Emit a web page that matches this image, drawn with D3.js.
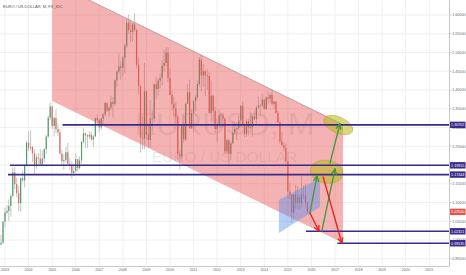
<!DOCTYPE html>
<html>
<head>
<meta charset="utf-8">
<script src="https://cdn.jsdelivr.net/npm/d3@7"></script>
<style>
  html, body { margin: 0; padding: 0; background: #fff; }
  svg { display: block; font-family: "Liberation Sans", Arial, sans-serif; }
</style>
</head>
<body>
<div id="chart"></div>
<script>
/* EURUSD monthly candles with channel drawing */

const title = "EURO / US DOLLAR, M, FX_IDC";
const firstMonth = "2002-10-01";

// monthly OHLC, Oct 2002 .. Nov 2015
const opens = [
    0.9795, 0.9876, 0.9928,
    1.0487, 1.0734, 1.0776, 1.0908, 1.1170, 1.1805, 1.1490, 1.1250, 1.0985, 1.1650, 1.1590, 1.1990,
    1.2595, 1.2460, 1.2480, 1.2310, 1.1970, 1.2200, 1.2170, 1.2020, 1.2170, 1.2430, 1.2760, 1.3260,
    1.3560, 1.3040, 1.3250, 1.2960, 1.2870, 1.2300, 1.2100, 1.2130, 1.2340, 1.2030, 1.1990, 1.1790,
    1.1840, 1.2160, 1.1920, 1.2120, 1.2620, 1.2850, 1.2790, 1.2760, 1.2810, 1.2680, 1.2760, 1.3250,
    1.3200, 1.3000, 1.3240, 1.3350, 1.3650, 1.3450, 1.3530, 1.3680, 1.3630, 1.4260, 1.4490, 1.4630,
    1.4590, 1.4860, 1.5180, 1.5790, 1.5600, 1.5550, 1.5750, 1.5600, 1.4670, 1.4100, 1.2730, 1.2700,
    1.3970, 1.2800, 1.2670, 1.3240, 1.3240, 1.4150, 1.4030, 1.4250, 1.4330, 1.4640, 1.4720, 1.5000,
    1.4320, 1.3870, 1.3630, 1.3510, 1.3290, 1.2290, 1.2230, 1.3050, 1.2680, 1.3630, 1.3940, 1.2980,
    1.3380, 1.3700, 1.3810, 1.4160, 1.4810, 1.4390, 1.4500, 1.4390, 1.4370, 1.3390, 1.3850, 1.3440,
    1.2960, 1.3080, 1.3330, 1.3340, 1.3240, 1.2360, 1.2660, 1.2300, 1.2580, 1.2860, 1.2960, 1.2990,
    1.3190, 1.3580, 1.3060, 1.2820, 1.3170, 1.3000, 1.3010, 1.3300, 1.3220, 1.3530, 1.3580, 1.3590,
    1.3740, 1.3490, 1.3800, 1.3770, 1.3870, 1.3630, 1.3690, 1.3390, 1.3130, 1.2630, 1.2530, 1.2450,
    1.2100, 1.1290, 1.1200, 1.0730, 1.1220, 1.0990, 1.1150, 1.0980, 1.1210, 1.1180, 1.1000
];
const highs = [
    0.9925, 1.0140, 1.0500,
    1.0860, 1.0935, 1.1080, 1.1230, 1.1930, 1.1935, 1.1660, 1.1450, 1.1670, 1.1840, 1.2020, 1.2640,
    1.2900, 1.2930, 1.2510, 1.2420, 1.2290, 1.2320, 1.2430, 1.2380, 1.2440, 1.2810, 1.3320, 1.3667,
    1.3580, 1.3290, 1.3480, 1.3110, 1.2950, 1.2400, 1.2290, 1.2480, 1.2590, 1.2180, 1.2100, 1.2040,
    1.2320, 1.2160, 1.2230, 1.2640, 1.2980, 1.2860, 1.2830, 1.2910, 1.2890, 1.2800, 1.3260, 1.3360,
    1.3240, 1.3250, 1.3390, 1.3680, 1.3660, 1.3550, 1.3850, 1.3810, 1.4280, 1.4520, 1.4970, 1.4770,
    1.4910, 1.5240, 1.5900, 1.6018, 1.5820, 1.5790, 1.6038, 1.5620, 1.4870, 1.4120, 1.3300, 1.4720,
    1.4000, 1.3100, 1.3740, 1.3460, 1.4180, 1.4340, 1.4300, 1.4440, 1.4800, 1.5060, 1.5144, 1.5140,
    1.4580, 1.3970, 1.3820, 1.3690, 1.3340, 1.2400, 1.3100, 1.3330, 1.3670, 1.4160, 1.4280, 1.3500,
    1.3730, 1.3860, 1.4250, 1.4880, 1.4940, 1.4700, 1.4530, 1.4550, 1.4470, 1.4250, 1.3870, 1.3550,
    1.3230, 1.3490, 1.3390, 1.3380, 1.3280, 1.2700, 1.2690, 1.2640, 1.3170, 1.3140, 1.3010, 1.3310,
    1.3590, 1.3710, 1.3120, 1.3240, 1.3240, 1.3420, 1.3350, 1.3450, 1.3570, 1.3830, 1.3620, 1.3900,
    1.3770, 1.3830, 1.3960, 1.3910, 1.3993, 1.3700, 1.3700, 1.3440, 1.3190, 1.2890, 1.2610, 1.2570,
    1.2100, 1.1530, 1.1220, 1.1220, 1.1470, 1.1440, 1.1220, 1.1710, 1.1460, 1.1500, 1.1020
];
const lows = [
    0.9695, 0.9865, 0.9900,
    1.0335, 1.0690, 1.0500, 1.0620, 1.1150, 1.1360, 1.1140, 1.0770, 1.0760, 1.1540, 1.1400, 1.1960,
    1.2370, 1.2380, 1.2080, 1.1760, 1.1900, 1.1990, 1.2010, 1.2000, 1.2070, 1.2280, 1.2720, 1.3190,
    1.2970, 1.2760, 1.2860, 1.2770, 1.2290, 1.1980, 1.1870, 1.2070, 1.2010, 1.1870, 1.1640, 1.1710,
    1.1800, 1.1820, 1.1870, 1.2040, 1.2570, 1.2460, 1.2450, 1.2690, 1.2650, 1.2480, 1.2750, 1.3090,
    1.2870, 1.2930, 1.3080, 1.3300, 1.3420, 1.3290, 1.3480, 1.3260, 1.3580, 1.4070, 1.4420, 1.4270,
    1.4360, 1.4440, 1.5120, 1.5510, 1.5280, 1.5280, 1.5550, 1.4580, 1.3880, 1.2330, 1.2420, 1.2420,
    1.2670, 1.2460, 1.2460, 1.2880, 1.3140, 1.3750, 1.3850, 1.4040, 1.4130, 1.4480, 1.4640, 1.4220,
    1.3860, 1.3440, 1.3270, 1.3110, 1.2140, 1.1876, 1.2150, 1.2590, 1.2650, 1.3620, 1.2970, 1.2960,
    1.2870, 1.3430, 1.3740, 1.4100, 1.3970, 1.4080, 1.3840, 1.4000, 1.3360, 1.3150, 1.3140, 1.2860,
    1.2620, 1.3000, 1.3000, 1.3000, 1.2290, 1.2290, 1.2040, 1.2130, 1.2560, 1.2800, 1.2660, 1.2920,
    1.3000, 1.3040, 1.2740, 1.2750, 1.2790, 1.2960, 1.2750, 1.3200, 1.3100, 1.3490, 1.3300, 1.3540,
    1.3470, 1.3470, 1.3640, 1.3670, 1.3590, 1.3500, 1.3370, 1.3130, 1.2570, 1.2500, 1.2360, 1.2030,
    1.1100, 1.1100, 1.0460, 1.0520, 1.0820, 1.0820, 1.0810, 1.0850, 1.1090, 1.0900, 1.0680
];
const closes = [
    0.9876, 0.9928, 1.0487,
    1.0734, 1.0776, 1.0908, 1.1170, 1.1805, 1.1490, 1.1250, 1.0985, 1.1650, 1.1590, 1.1990, 1.2595,
    1.2460, 1.2480, 1.2310, 1.1970, 1.2200, 1.2170, 1.2020, 1.2170, 1.2430, 1.2760, 1.3260, 1.3560,
    1.3040, 1.3250, 1.2960, 1.2870, 1.2300, 1.2100, 1.2130, 1.2340, 1.2030, 1.1990, 1.1790, 1.1840,
    1.2160, 1.1920, 1.2120, 1.2620, 1.2850, 1.2790, 1.2760, 1.2810, 1.2680, 1.2760, 1.3250, 1.3200,
    1.3000, 1.3240, 1.3350, 1.3650, 1.3450, 1.3530, 1.3680, 1.3630, 1.4260, 1.4490, 1.4630, 1.4590,
    1.4860, 1.5180, 1.5790, 1.5600, 1.5550, 1.5750, 1.5600, 1.4670, 1.4100, 1.2730, 1.2700, 1.3970,
    1.2800, 1.2670, 1.3240, 1.3240, 1.4150, 1.4030, 1.4250, 1.4330, 1.4640, 1.4720, 1.5000, 1.4320,
    1.3870, 1.3630, 1.3510, 1.3290, 1.2290, 1.2230, 1.3050, 1.2680, 1.3630, 1.3940, 1.2980, 1.3380,
    1.3700, 1.3810, 1.4160, 1.4810, 1.4390, 1.4500, 1.4390, 1.4370, 1.3390, 1.3850, 1.3440, 1.2960,
    1.3080, 1.3330, 1.3340, 1.3240, 1.2360, 1.2660, 1.2300, 1.2580, 1.2860, 1.2960, 1.2990, 1.3190,
    1.3580, 1.3060, 1.2820, 1.3170, 1.3000, 1.3010, 1.3300, 1.3220, 1.3530, 1.3580, 1.3590, 1.3740,
    1.3490, 1.3800, 1.3770, 1.3870, 1.3630, 1.3690, 1.3390, 1.3130, 1.2630, 1.2530, 1.2450, 1.2100,
    1.1290, 1.1200, 1.0730, 1.1220, 1.0990, 1.1150, 1.0980, 1.1210, 1.1180, 1.1000, 1.0750
];

// axes
const priceTicks = [0.95, 1.00, 1.05, 1.10, 1.15, 1.20, 1.25, 1.30, 1.35, 1.40, 1.45, 1.50, 1.55, 1.60];
const yearTicks = [2003, 2004, 2005, 2006, 2007, 2008, 2009, 2010, 2011, 2012, 2013, 2014, 2015, 2016, 2017, 2018, 2019, 2020, 2021];
const lastPrice = 1.07500;

// horizontal levels
const levelPrices = [1.30702, 1.19915, 1.17444, 1.02321, 0.99135];
const levelStarts = ["2005-06-10", "2003-03-18", "2003-02-16", "2015-10-08", "2017-02-06"];

// drawings [date, price]
const channel = [["2005-01-01", 1.688], ["2017-05-05", 1.3077], ["2017-05-05", 0.992], ["2005-01-01", 1.3707]];
const wedge = [["2014-08-15", 1.1067], ["2016-05-13", 1.1653], ["2016-05-13", 1.088], ["2014-08-15", 1.0187]];
const targets = [["2017-02-20", 1.3067], ["2016-08-25", 1.1821]];
const upArrows = [
    [["2015-12-09", 1.072], ["2016-03-28", 1.1707]],
    [["2016-06-10", 1.024], ["2017-01-01", 1.1893]],
    [["2016-10-16", 1.2053], ["2017-03-18", 1.3093]]
];
const downArrows = [
    [["2015-12-09", 1.072], ["2016-04-27", 1.024]],
    [["2016-07-01", 1.168], ["2017-04-16", 0.992]]
];

const W = 466, H = 275;
const paneW = 449, paneH = 266;
const parseDay = d3.timeParse("%Y-%m-%d");

let months = d3.timeMonth.range(parseDay(firstMonth), d3.timeMonth.offset(parseDay(firstMonth), closes.length));
let candles = months.map((m, i) => ({date: m, o: opens[i], h: highs[i], l: lows[i], c: closes[i]}));

let x = d3.scaleTime()
    .domain([new Date(2003, 0, 1), new Date(2021, 0, 1)])
    .range([5, 429.3]);
let y = d3.scaleLinear()
    .domain([0.95, 1.60])
    .range([258.75, 15]);

let pt = p => [x(parseDay(p[0])), y(p[1])];

let svg = d3.select("#chart").append("svg")
    .attr("width", W)
    .attr("height", H);

svg.append("rect").attr("width", W).attr("height", H).attr("fill", "#fff");

svg.append("clipPath").attr("id", "pane")
    .append("rect").attr("width", paneW).attr("height", paneH);

let pane = svg.append("g").attr("clip-path", "url(#pane)");

// grid
pane.selectAll("line.vgrid")
    .data(yearTicks)
    .enter().append("line")
    .attr("class", "vgrid")
    .attr("x1", d => x(new Date(d, 0, 1))).attr("x2", d => x(new Date(d, 0, 1)))
    .attr("y1", 0).attr("y2", paneH)
    .attr("stroke", "#eef0f2").attr("stroke-width", 1);

pane.selectAll("line.hgrid")
    .data(priceTicks)
    .enter().append("line")
    .attr("class", "hgrid")
    .attr("x1", 0).attr("x2", paneW)
    .attr("y1", d => y(d)).attr("y2", d => y(d))
    .attr("stroke", "#eef0f2").attr("stroke-width", 1);

// watermark
pane.append("text")
    .attr("x", paneW / 2).attr("y", 135)
    .attr("text-anchor", "middle")
    .style("font-size", "32px")
    .attr("fill", "rgba(120,123,134,0.16)")
    .text("EURUSD, M");
pane.append("text")
    .attr("x", paneW / 2).attr("y", 162)
    .attr("text-anchor", "middle")
    .style("font-size", "15.5px")
    .attr("fill", "rgba(120,123,134,0.16)")
    .text("EURO / US DOLLAR");

// candles
let candleG = pane.append("g");
candleG.selectAll("line.wick")
    .data(candles)
    .enter().append("line")
    .attr("class", "wick")
    .attr("x1", d => x(d.date)).attr("x2", d => x(d.date))
    .attr("y1", d => y(d.h)).attr("y2", d => y(d.l))
    .attr("stroke", "#b8b8b8").attr("stroke-width", 0.8);
candleG.selectAll("rect.body")
    .data(candles)
    .enter().append("rect")
    .attr("class", "body")
    .attr("x", d => x(d.date) - 0.6)
    .attr("width", 1.2)
    .attr("y", d => y(Math.max(d.o, d.c)))
    .attr("height", d => Math.max(0.6, Math.abs(y(d.o) - y(d.c))))
    .attr("fill", d => d.c >= d.o ? "#4e9f6f" : "#e06a5c");

// channel
pane.append("polygon")
    .attr("points", channel.map(pt).join(" "))
    .attr("fill", "rgba(228,72,72,0.42)");
pane.append("line")
    .attr("x1", pt(channel[0])[0]).attr("y1", pt(channel[0])[1])
    .attr("x2", pt(channel[1])[0]).attr("y2", pt(channel[1])[1])
    .attr("stroke", "#a98a8a").attr("stroke-width", 0.7);

// blue wedge
pane.append("polygon")
    .attr("points", wedge.map(pt).join(" "))
    .attr("fill", "rgba(80,140,235,0.42)");

// target ellipses
let tilt = [24, 8], radii = [[15.5, 8], [16.5, 11.5]];
targets.forEach((t, i) => {
    let c = pt(t);
    pane.append("ellipse")
        .attr("cx", 0).attr("cy", 0)
        .attr("rx", radii[i][0]).attr("ry", radii[i][1])
        .attr("transform", `translate(${c[0]},${c[1]}) rotate(${tilt[i]})`)
        .attr("fill", "rgba(185,185,25,0.55)")
        .attr("stroke", "rgba(160,160,20,0.6)")
        .attr("stroke-width", 0.7);
});

// levels
pane.selectAll("line.level")
    .data(levelPrices)
    .enter().append("line")
    .attr("class", "level")
    .attr("x1", (d, i) => x(parseDay(levelStarts[i]))).attr("x2", paneW)
    .attr("y1", d => y(d)).attr("y2", d => y(d))
    .attr("stroke", "#3b2a8c").attr("stroke-width", 1.6);

// arrows
function arrow(seg, color) {
    let a = pt(seg[0]), b = pt(seg[1]);
    let ang = Math.atan2(b[1] - a[1], b[0] - a[0]);
    let len = 5.5, spread = 0.45;
    let g = pane.append("g")
        .attr("stroke", color).attr("stroke-width", 1.3)
        .attr("fill", "none").attr("stroke-linecap", "round");
    g.append("line").attr("x1", a[0]).attr("y1", a[1]).attr("x2", b[0]).attr("y2", b[1]);
    [ang + Math.PI - spread, ang + Math.PI + spread].forEach(t => {
        g.append("line")
            .attr("x1", b[0]).attr("y1", b[1])
            .attr("x2", b[0] + len * Math.cos(t)).attr("y2", b[1] + len * Math.sin(t));
    });
}
upArrows.forEach(s => arrow(s, "#3f9a3a"));
downArrows.forEach(s => arrow(s, "#e3201b"));

// title
svg.append("text")
    .attr("x", 3).attr("y", 7.5)
    .style("font-size", "4px")
    .attr("fill", "#555")
    .text(title);

// axes borders
svg.append("line")
    .attr("x1", paneW + 0.5).attr("x2", paneW + 0.5).attr("y1", 0).attr("y2", paneH)
    .attr("stroke", "#c9c9c9").attr("stroke-width", 1);
svg.append("line")
    .attr("x1", 0).attr("x2", paneW + 0.5).attr("y1", paneH + 0.5).attr("y2", paneH + 0.5)
    .attr("stroke", "#c9c9c9").attr("stroke-width", 1);

// price axis
let fmt = d3.format(".5f");
let priceAxis = svg.append("g");
priceAxis.selectAll("line.tick")
    .data(priceTicks)
    .enter().append("line")
    .attr("x1", paneW + 1).attr("x2", paneW + 2.5)
    .attr("y1", d => y(d)).attr("y2", d => y(d))
    .attr("stroke", "#999").attr("stroke-width", 0.6);
priceAxis.selectAll("text")
    .data(priceTicks)
    .enter().append("text")
    .attr("x", paneW + 3.2).attr("y", d => y(d) + 1.3)
    .style("font-size", "3.7px")
    .attr("fill", "#666")
    .text(d => fmt(d));

// badges
function badge(p, color) {
    let g = svg.append("g");
    g.append("rect")
        .attr("x", paneW + 1).attr("y", y(p) - 3.2)
        .attr("width", 15.5).attr("height", 6.4)
        .attr("fill", color);
    g.append("text")
        .attr("x", paneW + 8.75).attr("y", y(p) + 1.3)
        .attr("text-anchor", "middle")
        .style("font-size", "3.7px")
        .attr("fill", "#fff")
        .text(fmt(p));
}
levelPrices.forEach(p => badge(p, "#3b2a8c"));
badge(lastPrice, "#e0574a");

// time axis
svg.selectAll("text.year")
    .data(yearTicks)
    .enter().append("text")
    .attr("class", "year")
    .attr("x", d => x(new Date(d, 0, 1))).attr("y", 271)
    .attr("text-anchor", "middle")
    .style("font-size", "3.6px")
    .attr("fill", "#666")
    .text(d => d);
</script>
</body>
</html>
